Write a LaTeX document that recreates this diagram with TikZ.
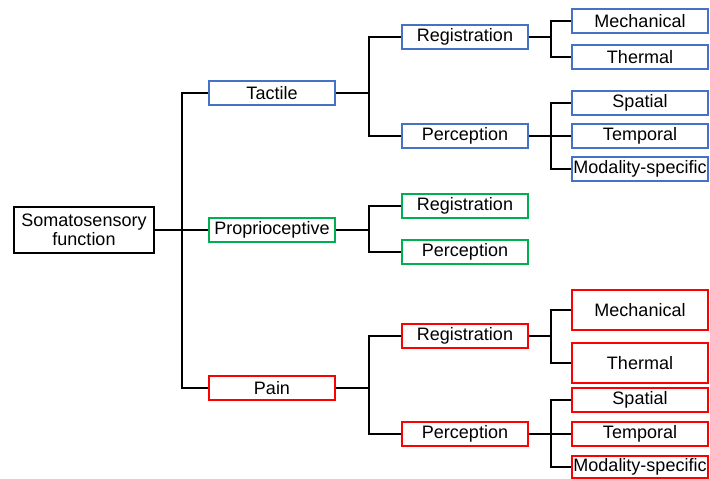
\documentclass[tikz,border=0pt]{standalone}
\usepackage{fontspec}
\setmainfont{Liberation Sans}
\definecolor{tblue}{HTML}{4472C4}
\definecolor{pgreen}{HTML}{00B050}
\definecolor{pred}{HTML}{FF0000}
\begin{document}
\begin{tikzpicture}[x=1pt, y=-1pt,
		box/.style={draw, line width=2pt, inner sep=0pt, minimum height=24pt,
			font=\fontsize{18}{20}\selectfont},
		mid/.style={box, minimum width=126pt},
		sub/.style={box, minimum width=126pt},
		leaf/.style={box, minimum width=136pt},
		link/.style={line width=2pt, black}]
	\useasboundingbox (0,0) rectangle (710,479);
	% root
	\node [box, line width=2.6pt, minimum width=140pt, minimum height=46pt,
		align=center, font=\fontsize{18}{19}\selectfont] (root) at (84,230)
		{Somatosensory\\function};
	% first level
	\node [mid, draw=tblue] (tac) at (272,93) {Tactile};
	\node [mid, draw=pgreen] (pro) at (272,230) {Proprioceptive};
	\node [mid, draw=pred] (pain) at (272,388) {Pain};
	\foreach \n in {tac,pro,pain}
		{
			\draw[link] (root.east) -- ++(27,0) |- (\n.west);
		}
	% second level
	\foreach \n/\c/\p/\y/\txt in {treg/tblue/tac/37/Registration,
			tper/tblue/tac/136/Perception,
			preg/pgreen/pro/206/Registration,
			pper/pgreen/pro/252/Perception,
			rreg/pred/pain/336/Registration,
			rper/pred/pain/434/Perception}
		{
			\node [sub, draw=\c] (\n) at (465,\y) {\txt};
			\draw[link] (\p.east) -- ++(33,0) |- (\n.west);
		}
	% leaves
	\foreach \n/\c/\p/\y/\h/\txt in {tm/tblue/treg/21/24/Mechanical,
			tt/tblue/treg/57/24/Thermal,
			ts/tblue/tper/103/24/Spatial,
			tp/tblue/tper/136/24/Temporal,
			tx/tblue/tper/169/24/Modality-specific,
			rm/pred/rreg/310/40/Mechanical,
			rt/pred/rreg/363/40/Thermal,
			rs/pred/rper/400/24/Spatial,
			rp/pred/rper/434/24/Temporal,
			rx/pred/rper/467/22/Modality-specific}
		{
			\node [leaf, draw=\c, minimum height=\h pt] (\n) at (640,\y) {\txt};
			\draw[link] (\p.east) -- ++(22,0) |- (\n.west);
		}
\end{tikzpicture}
\end{document}
